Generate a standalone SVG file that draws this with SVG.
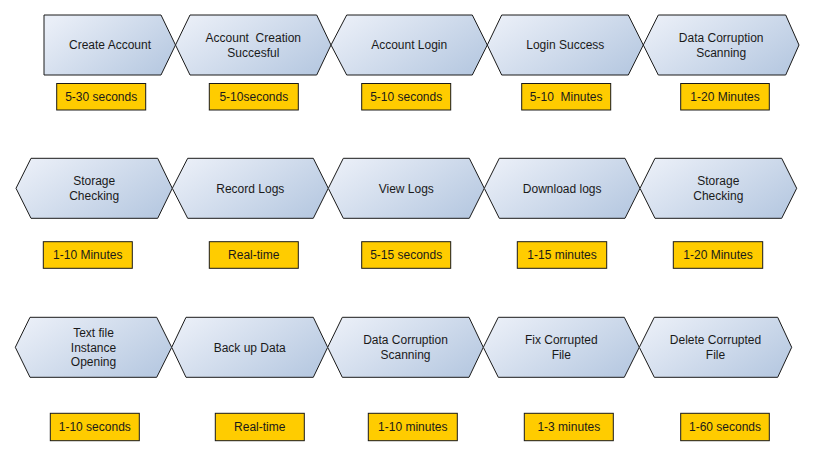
<svg xmlns="http://www.w3.org/2000/svg" width="815" height="455" viewBox="0 0 815 455">
<defs>
<linearGradient id="g" x1="0" y1="0.2" x2="1" y2="0.8">
<stop offset="0" stop-color="#e9eef7"/>
<stop offset="1" stop-color="#b7c9e1"/>
</linearGradient>
<style>
.s{fill:url(#g);stroke:#1a1a1a;stroke-width:1}
.b{fill:#ffcc00;stroke:#1a1a1a;stroke-width:1}
text{font-family:"Liberation Sans",Arial,sans-serif;font-size:12px;fill:#1a1a1a;text-anchor:middle;white-space:pre}
</style>
</defs>
<rect width="815" height="455" fill="#fff"/>
<g id="r1n1"><polygon class="s" points="44,15 161,15 175.5,45 161,75 44,75"/><text x="110" y="49.3">Create Account</text></g>
<g id="r1n2"><polygon class="s" points="175.5,45 190,15 316.7,15 331,45 316.7,75 190,75"/><text x="253.3" y="42">Account  Creation</text><text x="253.3" y="56.5">Succesful</text></g>
<g id="r1n3"><polygon class="s" points="331,45 346.7,15 472.3,15 487.3,45 472.3,75 346.7,75"/><text x="409.2" y="49.3">Account Login</text></g>
<g id="r1n4"><polygon class="s" points="487.3,45 501.7,15 628.3,15 643.3,45 628.3,75 501.7,75"/><text x="565.3" y="49.3">Login Success</text></g>
<g id="r1n5"><polygon class="s" points="643.3,45 658.3,15 785.7,15 799,45 785.7,75 658.3,75"/><text x="721.2" y="42">Data Corruption</text><text x="721.2" y="56.5">Scanning</text></g>
<g id="r1t1"><rect class="b" x="56.7" y="83.5" width="89" height="26.5"/><text x="101.2" y="101">5-30 seconds</text></g>
<g id="r1t2"><rect class="b" x="209.3" y="83.5" width="89" height="26.5"/><text x="253.8" y="101">5-10seconds</text></g>
<g id="r1t3"><rect class="b" x="361.7" y="83.5" width="89" height="26.5"/><text x="406.2" y="101">5-10 seconds</text></g>
<g id="r1t4"><rect class="b" x="521.7" y="83.5" width="89" height="26.5"/><text x="566.2" y="101">5-10  Minutes</text></g>
<g id="r1t5"><rect class="b" x="680.7" y="83.5" width="88.6" height="26.5"/><text x="725" y="101">1-20 Minutes</text></g>

<g id="r2n1"><polygon class="s" points="16,188.3 31,158.3 157.7,158.3 172.3,188.3 157.7,218.3 31,218.3"/><text x="94.2" y="185.3">Storage</text><text x="94.2" y="199.8">Checking</text></g>
<g id="r2n2"><polygon class="s" points="172.3,188.3 187.7,158.3 313.3,158.3 328.3,188.3 313.3,218.3 187.7,218.3"/><text x="250.3" y="192.6">Record Logs</text></g>
<g id="r2n3"><polygon class="s" points="328.3,188.3 343.3,158.3 469.3,158.3 484.3,188.3 469.3,218.3 343.3,218.3"/><text x="406.3" y="192.6">View Logs</text></g>
<g id="r2n4"><polygon class="s" points="484.3,188.3 499.3,158.3 625,158.3 640,188.3 625,218.3 499.3,218.3"/><text x="562.2" y="192.6">Download logs</text></g>
<g id="r2n5"><polygon class="s" points="640,188.3 655,158.3 781.7,158.3 796.7,188.3 781.7,218.3 655,218.3"/><text x="718.3" y="185.3">Storage</text><text x="718.3" y="199.8">Checking</text></g>
<g id="r2t1"><rect class="b" x="43.3" y="241.7" width="89" height="26.6"/><text x="87.8" y="259.2">1-10 Minutes</text></g>
<g id="r2t2"><rect class="b" x="209.3" y="241.7" width="89" height="26.6"/><text x="253.8" y="259.2">Real-time</text></g>
<g id="r2t3"><rect class="b" x="361.7" y="241.7" width="89" height="26.6"/><text x="406.2" y="259.2">5-15 seconds</text></g>
<g id="r2t4"><rect class="b" x="517.3" y="241.7" width="89.4" height="26.6"/><text x="562" y="259.2">1-15 minutes</text></g>
<g id="r2t5"><rect class="b" x="673.3" y="241.7" width="89.4" height="26.6"/><text x="718" y="259.2">1-20 Minutes</text></g>

<g id="r3n1"><polygon class="s" points="15.3,347.3 30,317.3 156.7,317.3 171.7,347.3 156.7,377.3 30,377.3"/><text x="93.5" y="337">Text file</text><text x="93.5" y="351.5">Instance</text><text x="93.5" y="366">Opening</text></g>
<g id="r3n2"><polygon class="s" points="171.7,347.3 186,317.3 313.3,317.3 327.7,347.3 313.3,377.3 186,377.3"/><text x="249.7" y="351.6">Back up Data</text></g>
<g id="r3n3"><polygon class="s" points="327.7,347.3 342.3,317.3 469,317.3 483.3,347.3 469,377.3 342.3,377.3"/><text x="405.5" y="344.3">Data Corruption</text><text x="405.5" y="358.8">Scanning</text></g>
<g id="r3n4"><polygon class="s" points="483.3,347.3 498.3,317.3 624.3,317.3 639.3,347.3 624.3,377.3 498.3,377.3"/><text x="561.3" y="344.3">Fix Corrupted</text><text x="561.3" y="358.8">File</text></g>
<g id="r3n5"><polygon class="s" points="639.3,347.3 654.3,317.3 777.7,317.3 791.7,347.3 777.7,377.3 654.3,377.3"/><text x="715.5" y="344.3">Delete Corrupted</text><text x="715.5" y="358.8">File</text></g>
<g id="r3t1"><rect class="b" x="50.3" y="413.3" width="89" height="27.4"/><text x="94.8" y="431.2">1-10 seconds</text></g>
<g id="r3t2"><rect class="b" x="215.3" y="413.3" width="89" height="27.4"/><text x="259.8" y="431.2">Real-time</text></g>
<g id="r3t3"><rect class="b" x="368.3" y="413.3" width="89" height="27.4"/><text x="412.8" y="431.2">1-10 minutes</text></g>
<g id="r3t4"><rect class="b" x="524.3" y="413.3" width="89" height="27.4"/><text x="568.8" y="431.2">1-3 minutes</text></g>
<g id="r3t5"><rect class="b" x="680.7" y="413.3" width="88.6" height="27.4"/><text x="725" y="431.2">1-60 seconds</text></g>
</svg>
